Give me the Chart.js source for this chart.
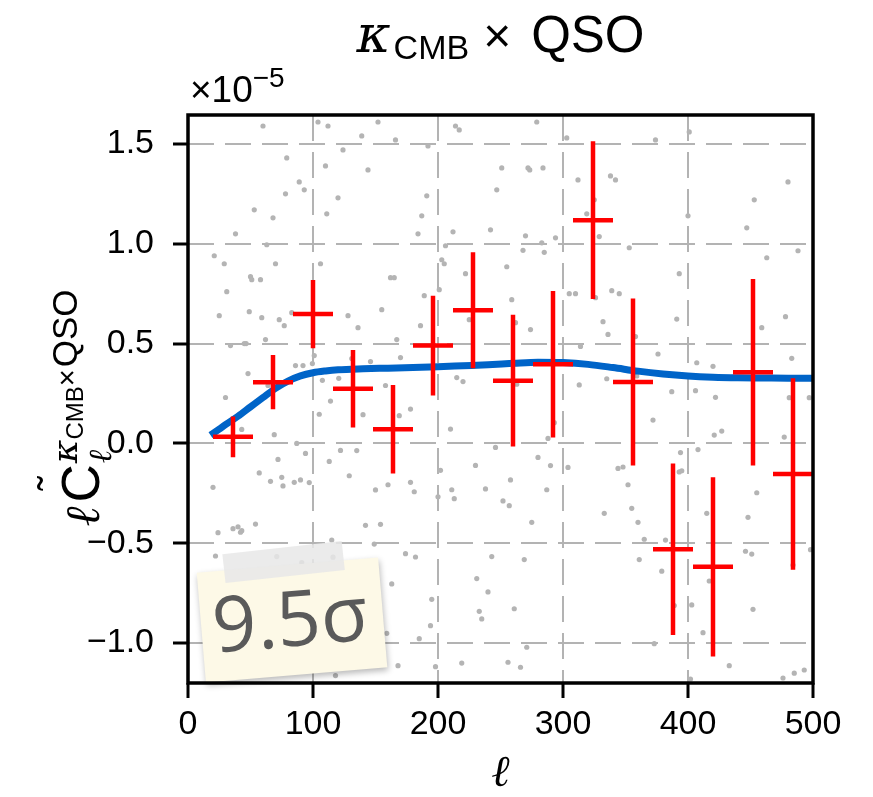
<!DOCTYPE html>
<html>
<head>
<meta charset="utf-8">
<script src="https://cdn.jsdelivr.net/npm/chart.js@4.4.1/dist/chart.umd.min.js"></script>
<style>
    html, body { margin: 0; padding: 0; background: #ffffff; }
    #wrap { width: 873px; height: 797px; }
</style>
</head>
<body>
<div id="wrap"><canvas id="chart" width="873" height="797"></canvas></div>
<script>
// measured bandpowers (units of 1e-5)
const ellCenters = [36, 68, 100, 132, 164, 196, 228, 260, 292, 324, 356, 388, 420, 452, 484];
const ellHalfWidths = [16, 16, 16, 16, 16, 16, 16, 16, 16, 16, 16, 16, 16, 16, 16];
const clValues = [0.033, 0.307, 0.648, 0.274, 0.071, 0.49, 0.667, 0.314, 0.397, 1.118, 0.308, -0.53, -0.618, 0.356, -0.153];
const clErrors = [0.102, 0.136, 0.171, 0.194, 0.222, 0.25, 0.29, 0.33, 0.367, 0.395, 0.418, 0.43, 0.449, 0.467, 0.48];

// theory curve
const theoryEll = [18, 25, 30, 40, 50, 60, 70, 80, 90, 100, 110, 120, 140, 160, 180, 200, 220, 240, 260, 280, 300, 320, 340, 360, 380, 400, 420, 440, 460, 480, 500];
const theoryCl = [0.042, 0.072, 0.094, 0.136, 0.183, 0.23, 0.276, 0.312, 0.338, 0.354, 0.363, 0.369, 0.374, 0.377, 0.38, 0.384, 0.389, 0.394, 0.401, 0.407, 0.405, 0.396, 0.38, 0.362, 0.348, 0.338, 0.332, 0.329, 0.328, 0.327, 0.327];

// faint background points
const noiseEll = [60, 104, 112, 152, 139, 166, 124, 192, 214, 217, 79, 110, 144, 89, 93, 78, 120, 191, 53, 68, 111, 187, 38, 184, 212, 242, 247, 63, 206, 21, 29, 70, 106, 203, 205, 222, 50, 51, 58, 162, 165, 31, 201, 25, 49, 59, 73, 77, 83, 128, 136, 155, 189, 186, 225, 34, 45, 46.5, 62, 167, 101, 99.5, 86, 92, 131, 146, 170, 48, 107.5, 120.6, 158, 215, 220, 30, 64,
    279, 303, 374, 401, 251, 272, 273.4, 284, 312, 338, 342, 480, 453, 325, 319, 447, 400, 270, 294, 329, 283, 285, 268, 353, 488, 463, 255, 393, 259, 305, 310, 339, 345, 326, 262, 274, 332, 336, 391, 459, 478, 358, 314, 376, 407, 420, 483, 263, 313, 335, 359, 387, 406, 422, 481, 497,
    43, 69, 114, 105, 140, 169, 178, 210, 87, 94, 72, 57, 66, 75, 76, 85, 90, 97, 20, 122, 135, 113, 129, 150, 160, 178, 181, 202, 200, 211, 213, 230, 238, 246, 24, 36, 40, 43, 42, 54, 142, 154, 115, 149, 22, 71, 91, 116, 174, 182, 243, 231, 240, 163, 195, 233, 235, 194, 159, 185, 168, 198, 219, 118,
    372, 293, 288, 421, 427, 477, 280, 290, 304, 344, 348, 394, 393, 395, 408, 258, 287, 352, 455, 252, 257, 275, 333, 355, 360, 415, 448, 365, 382, 269, 361, 379, 417, 446, 451, 498, 484, 261, 389, 403, 452, 412, 373, 271, 256, 266, 433, 476, 485, 493, 402];
const noiseVal = [1.59, 1.61, 1.59, 1.61, 1.54, 1.52, 1.47, 1.49, 1.59, 1.57, 1.43, 1.39, 1.37, 1.31, 1.27, 1.25, 1.23, 1.24, 1.17, 1.13, 1.15, 1.14, 1.05, 1.05, 1.06, 1.07, 1.27, 0.995, 0.99, 0.94, 0.90, 0.90, 0.90, 0.92, 0.90, 0.85, 0.835, 0.82, 0.82, 0.83, 0.83, 0.76, 0.77, 0.64, 0.66, 0.63, 0.62, 0.59, 0.655, 0.64, 0.58, 0.67, 0.74, 0.59, 0.62, 0.49, 0.50, 0.50, 0.52, 0.52, 0.44, 0.40, 0.39, 0.39, 0.425, 0.41, 0.43, 0.35, 0.316, 0.326, 0.29, 0.33, 0.31, 0.23, 0.29,
    1.61, 1.53, 1.52, 1.56, 1.38, 1.38, 1.37, 1.38, 1.32, 1.34, 1.32, 1.31, 1.22, 1.22, 1.15, 1.08, 1.14, 1.04, 1.03, 1.036, 1.005, 0.957, 0.967, 0.98, 0.965, 0.93, 0.885, 0.85, 0.72, 0.75, 0.75, 0.765, 0.75, 0.73, 0.605, 0.57, 0.61, 0.546, 0.623, 0.58, 0.635, 0.535, 0.486, 0.448, 0.404, 0.386, 0.426, 0.297, 0.293, 0.324, 0.338, 0.259, 0.264, 0.231, 0.229, 0.229,
    0.07, 0.044, 0.212, 0.146, 0.144, 0.139, 0.172, 0.072, 0.0, -0.05, -0.08, -0.148, -0.19, -0.17, -0.213, -0.195, -0.183, -0.196, -0.22, -0.035, -0.036, -0.09, -0.162, -0.233, -0.207, -0.195, -0.242, -0.135, -0.267, -0.232, -0.277, -0.11, -0.228, -0.02, -0.447, -0.427, -0.418, -0.437, -0.445, -0.404, -0.41, -0.405, -0.484, -0.504, -0.564, -0.567, -0.597, -0.57, -0.552, -0.569, -0.567, -0.677, -0.744, -0.704, -0.781, -0.841, -0.879, -0.913, -0.951, -0.978, -1.113, -1.118, -1.10, -1.163,
    0.117, 0.104, 0.025, 0.042, 0.062, 0.032, -0.07, -0.111, -0.12, -0.125, -0.118, -0.046, -0.143, -0.137, -0.031, -0.183, -0.232, -0.207, -0.247, -0.288, -0.312, -0.395, -0.35, -0.325, -0.395, -0.35, -0.37, -0.48, -0.484, -0.582, -0.582, -0.64, -0.689, -0.54, -0.554, -0.532, -0.609, -0.828, -0.812, -0.809, -0.831, -0.948, -1.003, -1.021, -1.096, -1.121, -1.113, -1.175, -1.151, -1.135, -1.18];

const xTicks = [0, 100, 200, 300, 400, 500];
const yTicks = [-1.0, -0.5, 0.0, 0.5, 1.0, 1.5];
const significance = "9.5σ";

const SANS = '"Liberation Sans", Arial, sans-serif';
const SERIF = '"DejaVu Serif", serif';

function fmtY(v) {
    return v.toFixed(1).replace("-", "\u2212");
}

// draw a list of text pieces one after another
function drawRuns(ctx, runs, x, y, align) {
    let total = 0;
    runs.forEach(r => {
        ctx.font = r.font;
        r.w = ctx.measureText(r.t).width;
        total += r.w + (r.gap || 0);
    });
    let cx = align === "left" ? x : x - total / 2;
    ctx.textAlign = "left";
    ctx.textBaseline = "alphabetic";
    runs.forEach(r => {
        ctx.font = r.font;
        ctx.fillText(r.t, cx, y + (r.dy || 0));
        cx += r.w + (r.gap || 0);
    });
    return total;
}

const errorBars = {
    id: "errorBars",
    afterDatasetsDraw(chart) {
        const { ctx, scales } = chart;
        const xs = scales.x, ys = scales.y;
        ctx.save();
        ctx.strokeStyle = "#ff0000";
        ctx.lineWidth = 4.5;
        ctx.lineCap = "butt";
        for (let i = 0; i < ellCenters.length; i++) {
            const px = xs.getPixelForValue(ellCenters[i]);
            const py = ys.getPixelForValue(clValues[i]);
            ctx.beginPath();
            ctx.moveTo(xs.getPixelForValue(ellCenters[i] - ellHalfWidths[i]), py);
            ctx.lineTo(xs.getPixelForValue(ellCenters[i] + ellHalfWidths[i]), py);
            ctx.moveTo(px, ys.getPixelForValue(clValues[i] + clErrors[i]));
            ctx.lineTo(px, ys.getPixelForValue(clValues[i] - clErrors[i]));
            ctx.stroke();
        }
        ctx.restore();

        // sticky note with the detection significance
        const area = chart.chartArea;
        ctx.save();
        ctx.translate(area.left + 104, area.top + 505);
        ctx.rotate(-4.8 * Math.PI / 180);
        ctx.shadowColor = "rgba(0,0,0,0.28)";
        ctx.shadowBlur = 6;
        ctx.shadowOffsetX = 1;
        ctx.shadowOffsetY = 3;
        ctx.fillStyle = "#fdf9e7";
        ctx.fillRect(-91, -55, 182, 110);
        ctx.shadowColor = "transparent";
        ctx.fillStyle = "#5a5a5a";
        ctx.font = '77px "Open Sans", sans-serif';
        ctx.textAlign = "center";
        ctx.textBaseline = "alphabetic";
        ctx.fillText(significance, -2, 26);
        ctx.rotate(-1.5 * Math.PI / 180);
        ctx.fillStyle = "rgba(232,232,232,0.85)";
        ctx.fillRect(-62, -73, 120, 29);
        ctx.restore();
    }
};

const frameAndText = {
    id: "frameAndText",
    afterDraw(chart) {
        const { ctx, chartArea: a } = chart;
        ctx.save();
        ctx.strokeStyle = "#000000";
        ctx.lineWidth = 3.5;
        ctx.strokeRect(a.left, a.top, a.right - a.left, a.bottom - a.top);

        ctx.fillStyle = "#000000";
        // title
        drawRuns(ctx, [
            { t: "κ", font: "italic 52px " + SERIF, gap: 3 },
            { t: "CMB", font: "34px " + SANS, dy: 7, gap: 14 },
            { t: "×", font: "48px " + SANS, gap: 20 },
            { t: "QSO", font: "51px " + SANS }
        ], (a.left + a.right) / 2, 52);

        // offset text of the y axis
        drawRuns(ctx, [
            { t: "×10", font: "37px " + SANS },
            { t: "−5", font: "28px " + SANS, dy: -15 }
        ], a.left + 2, 102, "left");

        // x label
        ctx.font = "italic 44px " + SERIF;
        ctx.textAlign = "center";
        ctx.fillText("ℓ", (a.left + a.right) / 2, 786);

        // y label, rotated
        ctx.save();
        ctx.translate(99, 408);
        ctx.rotate(-Math.PI / 2);
        const supRuns = [
            { t: "κ", font: "italic 36px " + SERIF },
            { t: "CMB", font: "24px " + SANS, dy: 6 },
            { t: "×", font: "29px " + SANS, gap: 2 },
            { t: "QSO", font: "35px " + SANS }
        ];
        let supW = 0;
        supRuns.forEach(r => { ctx.font = r.font; supW += ctx.measureText(r.t).width + (r.gap || 0); });
        ctx.font = "italic 48px " + SERIF;
        const ellW = ctx.measureText("ℓ").width;
        ctx.font = "53px " + SANS;
        const cW = ctx.measureText("C").width;
        const total = ellW + 4 + cW + 1 + supW;
        let x0 = -total / 2;
        ctx.textAlign = "left";
        ctx.font = "italic 48px " + SERIF;
        ctx.fillText("ℓ", x0, 0);
        x0 += ellW + 4;
        ctx.font = "53px " + SANS;
        ctx.fillText("C", x0, 0);
        ctx.textAlign = "center";
        ctx.font = "42px " + SANS;
        ctx.fillText("˜", x0 + cW / 2, -31);
        ctx.textAlign = "left";
        x0 += cW + 1;
        ctx.font = "italic 32px " + SERIF;
        ctx.fillText("ℓ", x0, 12);
        drawRuns(ctx, supRuns, x0, -22, "left");
        ctx.restore();
        ctx.restore();
    }
};

new Chart(document.getElementById("chart"), {
    type: "scatter",
    data: {
        datasets: [
            {
                label: "noise",
                data: noiseEll.map((x, i) => ({ x: x, y: noiseVal[i] })),
                pointRadius: 2.6,
                pointBackgroundColor: "#b4b4b4",
                pointBorderWidth: 0,
                showLine: false,
                order: 3
            },
            {
                label: "theory",
                data: theoryEll.map((x, i) => ({ x: x, y: theoryCl[i] })),
                showLine: true,
                borderColor: "#0064c8",
                borderWidth: 7,
                pointRadius: 0,
                cubicInterpolationMode: "monotone",
                fill: false,
                order: 1
            }
        ]
    },
    options: {
        responsive: false,
        animation: false,
        events: [],
        layout: { padding: { top: 115, right: 60, left: 0, bottom: 0 } },
        plugins: {
            legend: { display: false },
            tooltip: { enabled: false },
            title: { display: false }
        },
        scales: {
            x: {
                type: "linear",
                min: 0,
                max: 500,
                afterBuildTicks: s => { s.ticks = xTicks.map(v => ({ value: v })); },
                afterFit: s => { s.height = 114; },
                grid: {
                    color: "#b3b3b3",
                    lineWidth: 2,
                    tickColor: "#000000",
                    tickWidth: 3,
                    tickLength: 15
                },
                border: { display: false, dash: [26, 11] },
                ticks: {
                    color: "#000000",
                    font: { family: "Liberation Sans", size: 34 },
                    padding: 6,
                    maxRotation: 0,
                    callback: v => String(v)
                }
            },
            y: {
                type: "linear",
                min: -1.2,
                max: 1.645,
                afterBuildTicks: s => { s.ticks = yTicks.map(v => ({ value: v })); },
                afterFit: s => { s.width = 188; },
                grid: {
                    color: "#b3b3b3",
                    lineWidth: 2,
                    tickColor: "#000000",
                    tickWidth: 3,
                    tickLength: 15
                },
                border: { display: false, dash: [26, 11] },
                ticks: {
                    color: "#000000",
                    font: { family: "Liberation Sans", size: 34 },
                    padding: 19,
                    callback: v => fmtY(v)
                }
            }
        }
    },
    plugins: [errorBars, frameAndText]
});
</script>
</body>
</html>
